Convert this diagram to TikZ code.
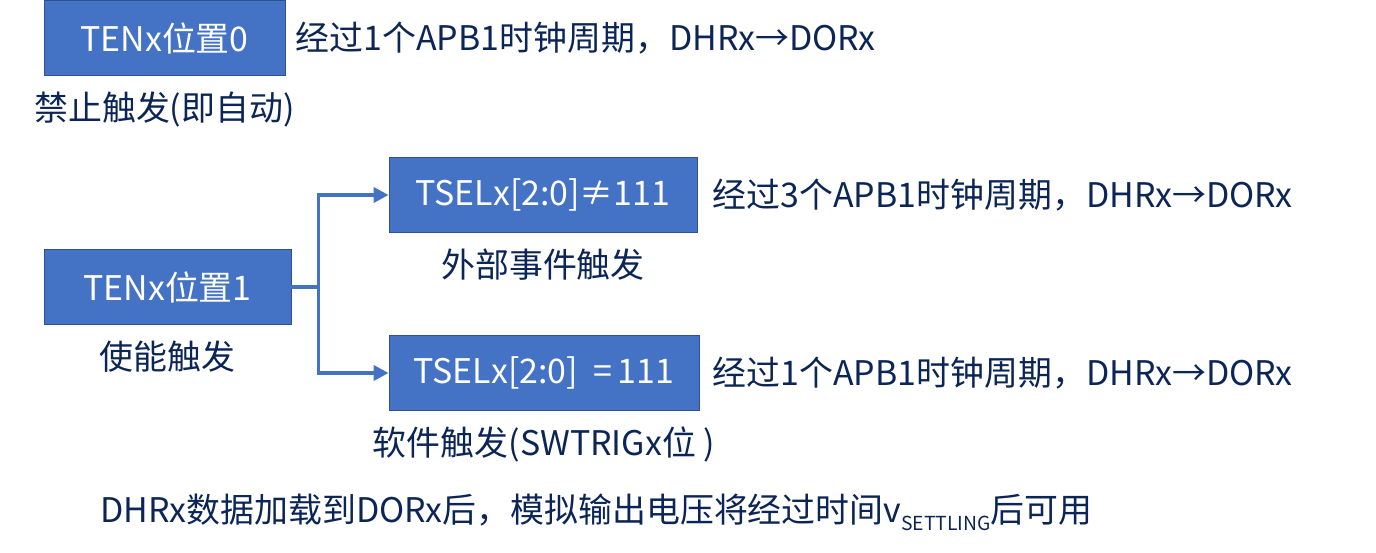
\documentclass[tikz,border=0pt]{standalone}
\usepackage{fontspec}
\setmainfont{Noto Sans CJK SC}
\usepackage{tikz}
\usetikzlibrary{positioning,arrows.meta}
\definecolor{boxblue}{HTML}{4472C4}
\definecolor{boxedge}{HTML}{2F528F}
\definecolor{txtnavy}{HTML}{0C2557}

\begin{document}
\begin{tikzpicture}[x=0.02cm,y=-0.02cm,
  node distance=3mm and 2mm,
  box/.style={draw=boxedge,fill=boxblue,line width=0.5pt,text=white,
              minimum height=15mm,align=center,font=\fontsize{19.3}{23}\selectfont},
  lbl/.style={text=txtnavy,inner sep=0pt,font=\fontsize{19.3}{23}\selectfont},
  arr/.style={-{Triangle[length=3mm,width=3mm]},boxblue,line width=2.1pt}]
\useasboundingbox (0,0) rectangle (1376,553);
% mode 0: no trigger
\node[box,minimum width=48.2mm] (ten0) at (164.5,38) {TENx位置0};
\node[lbl,below=3.2mm of ten0] (ten0l) {禁止触发(即自动)};
\node[lbl,right=2mm of ten0] (ten0r) {经过1个APB1时钟周期，DHRx→DORx};
% mode 1: trigger enabled
\node[box,minimum width=49.4mm] (ten1) at (167.5,287) {TENx位置1};
\node[lbl,below=3.2mm of ten1] (ten1l) {使能触发};
\node[box,minimum width=61.6mm] (ext) at (543,195) {TSELx[2:0]≠111};
\node[lbl,below=3.2mm of ext] (extl) {外部事件触发};
\node[lbl,right=3mm of ext] (extr) {经过3个APB1时钟周期，DHRx→DORx};
\node[box,minimum width=62mm] (sw) at (544,373) {TSELx[2:0]\ \ =\,111};
\node[lbl,below=3.2mm of sw] (swl) {软件触发(SWTRIGx位 )};
\node[lbl,right=2.6mm of sw] (swr) {经过1个APB1时钟周期，DHRx→DORx};
% note
\node[lbl,anchor=west] (note) at (100,512)
  {DHRx数据加载到DORx后，模拟输出电压将经过时间v\raisebox{-0.45ex}{\fontsize{11}{12}\selectfont SETTLING}后可用};
\draw[boxblue,line width=2.1pt] (ten1.east) -- ++(27,0) coordinate (fork);
\draw[arr] (fork) |- (ext.west);
\draw[arr] (fork) |- (sw.west);
\end{tikzpicture}
\end{document}
